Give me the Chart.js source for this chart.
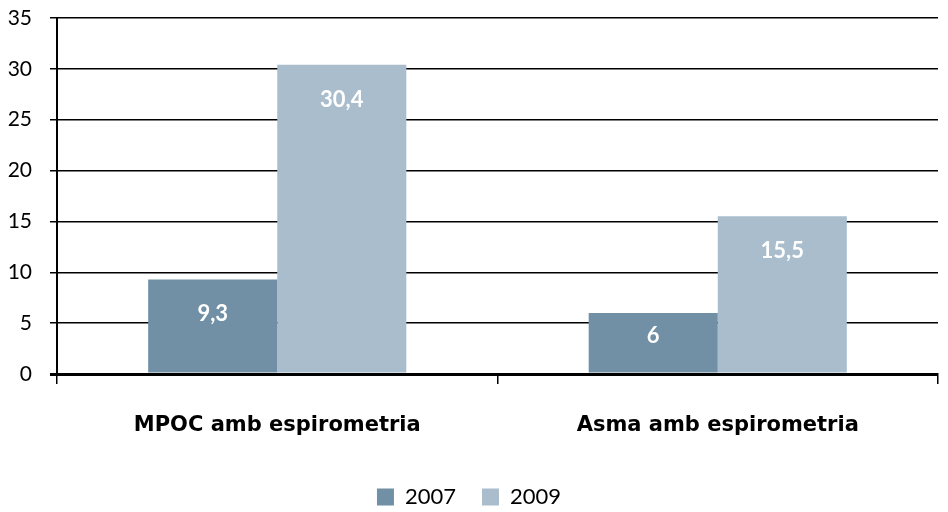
<!DOCTYPE html>
<html>
<head>
<meta charset="utf-8">
<script src="https://cdn.jsdelivr.net/npm/chart.js@4"></script>
<style>
  html, body { margin: 0; padding: 0; background: #fff; }
  #wrap { width: 948px; height: 512px; }
</style>
</head>
<body>
<div id="wrap"><canvas id="grafica" width="948" height="512"></canvas></div>
<script>
const categorias = ['MPOC amb espirometria', 'Asma amb espirometria'];
const valores2007 = [9.3, 6];
const valores2009 = [30.4, 15.5];
const etiquetes2007 = ['9,3', '6'];
const etiquetes2009 = ['30,4', '15,5'];

const FONT = 'Lato, "DejaVu Sans", sans-serif';

// etiquetes blanques dins de les barres
const etiquetesBarres = {
    id: 'etiquetesBarres',
    afterDatasetsDraw(chart) {
        const ctx = chart.ctx;
        const textos = [etiquetes2007, etiquetes2009];
        ctx.save();
        ctx.fillStyle = '#ffffff';
        ctx.font = 'bold 22px ' + FONT;
        ctx.textAlign = 'center';
        ctx.textBaseline = 'middle';
        chart.data.datasets.forEach((ds, i) => {
            chart.getDatasetMeta(i).data.forEach((bar, j) => {
                const alt = bar.base - bar.y;
                const off = Math.min(35, alt * 0.38);
                ctx.fillText(textos[i][j], bar.x, bar.y + off);
            });
        });
        ctx.restore();
    }
};

// alçada fixa per a la llegenda (el padding també separa els elements)
const alcadaLlegenda = {
    id: 'alcadaLlegenda',
    beforeLayout(chart) {
        const lg = chart.legend;
        if (lg && !lg._fitPatched) {
            const orig = lg.fit;
            lg.fit = function () {
                orig.call(this);
                this.height = 52;
            };
            lg._fitPatched = true;
        }
    }
};

new Chart(document.getElementById('grafica').getContext('2d'), {
    type: 'bar',
    data: {
        labels: categorias,
        datasets: [
            {
                label: '2007',
                data: valores2007,
                backgroundColor: '#7190a5',
                borderWidth: 0
            },
            {
                label: '2009',
                data: valores2009,
                backgroundColor: '#aabdcc',
                borderWidth: 0
            }
        ]
    },
    options: {
        responsive: false,
        animation: false,
        categoryPercentage: 0.586,
        barPercentage: 1,
        layout: { padding: { left: 0, right: 10, top: 18, bottom: 0 } },
        plugins: {
            tooltip: { enabled: false },
            legend: {
                position: 'bottom',
                labels: {
                    color: '#000',
                    font: { family: FONT, size: 22 },
                    boxWidth: 17,
                    boxHeight: 17,
                    padding: 26
                }
            }
        },
        scales: {
            y: {
                min: 0,
                max: 35,
                afterFit: s => { s.width = 57; s.paddingTop = 0; s.paddingBottom = 0; },
                ticks: {
                    stepSize: 5,
                    color: '#000',
                    font: { family: FONT, size: 21 },
                    padding: 18
                },
                grid: {
                    color: '#000',
                    lineWidth: c => (c.tick && c.tick.value === 0 ? 3 : 1.5),
                    tickLength: 7
                },
                border: { color: '#000', width: 2 }
            },
            x: {
                afterFit: s => { s.height = 86; },
                ticks: {
                    color: '#000',
                    font: { family: '"DejaVu Sans", sans-serif', size: 21, weight: 'bold' },
                    padding: 29
                },
                grid: {
                    offset: true,
                    drawOnChartArea: false,
                    color: '#000',
                    lineWidth: 1.5,
                    tickLength: 10
                },
                border: { color: '#000', width: 3 }
            }
        }
    },
    plugins: [etiquetesBarres, alcadaLlegenda]
});
</script>
</body>
</html>
